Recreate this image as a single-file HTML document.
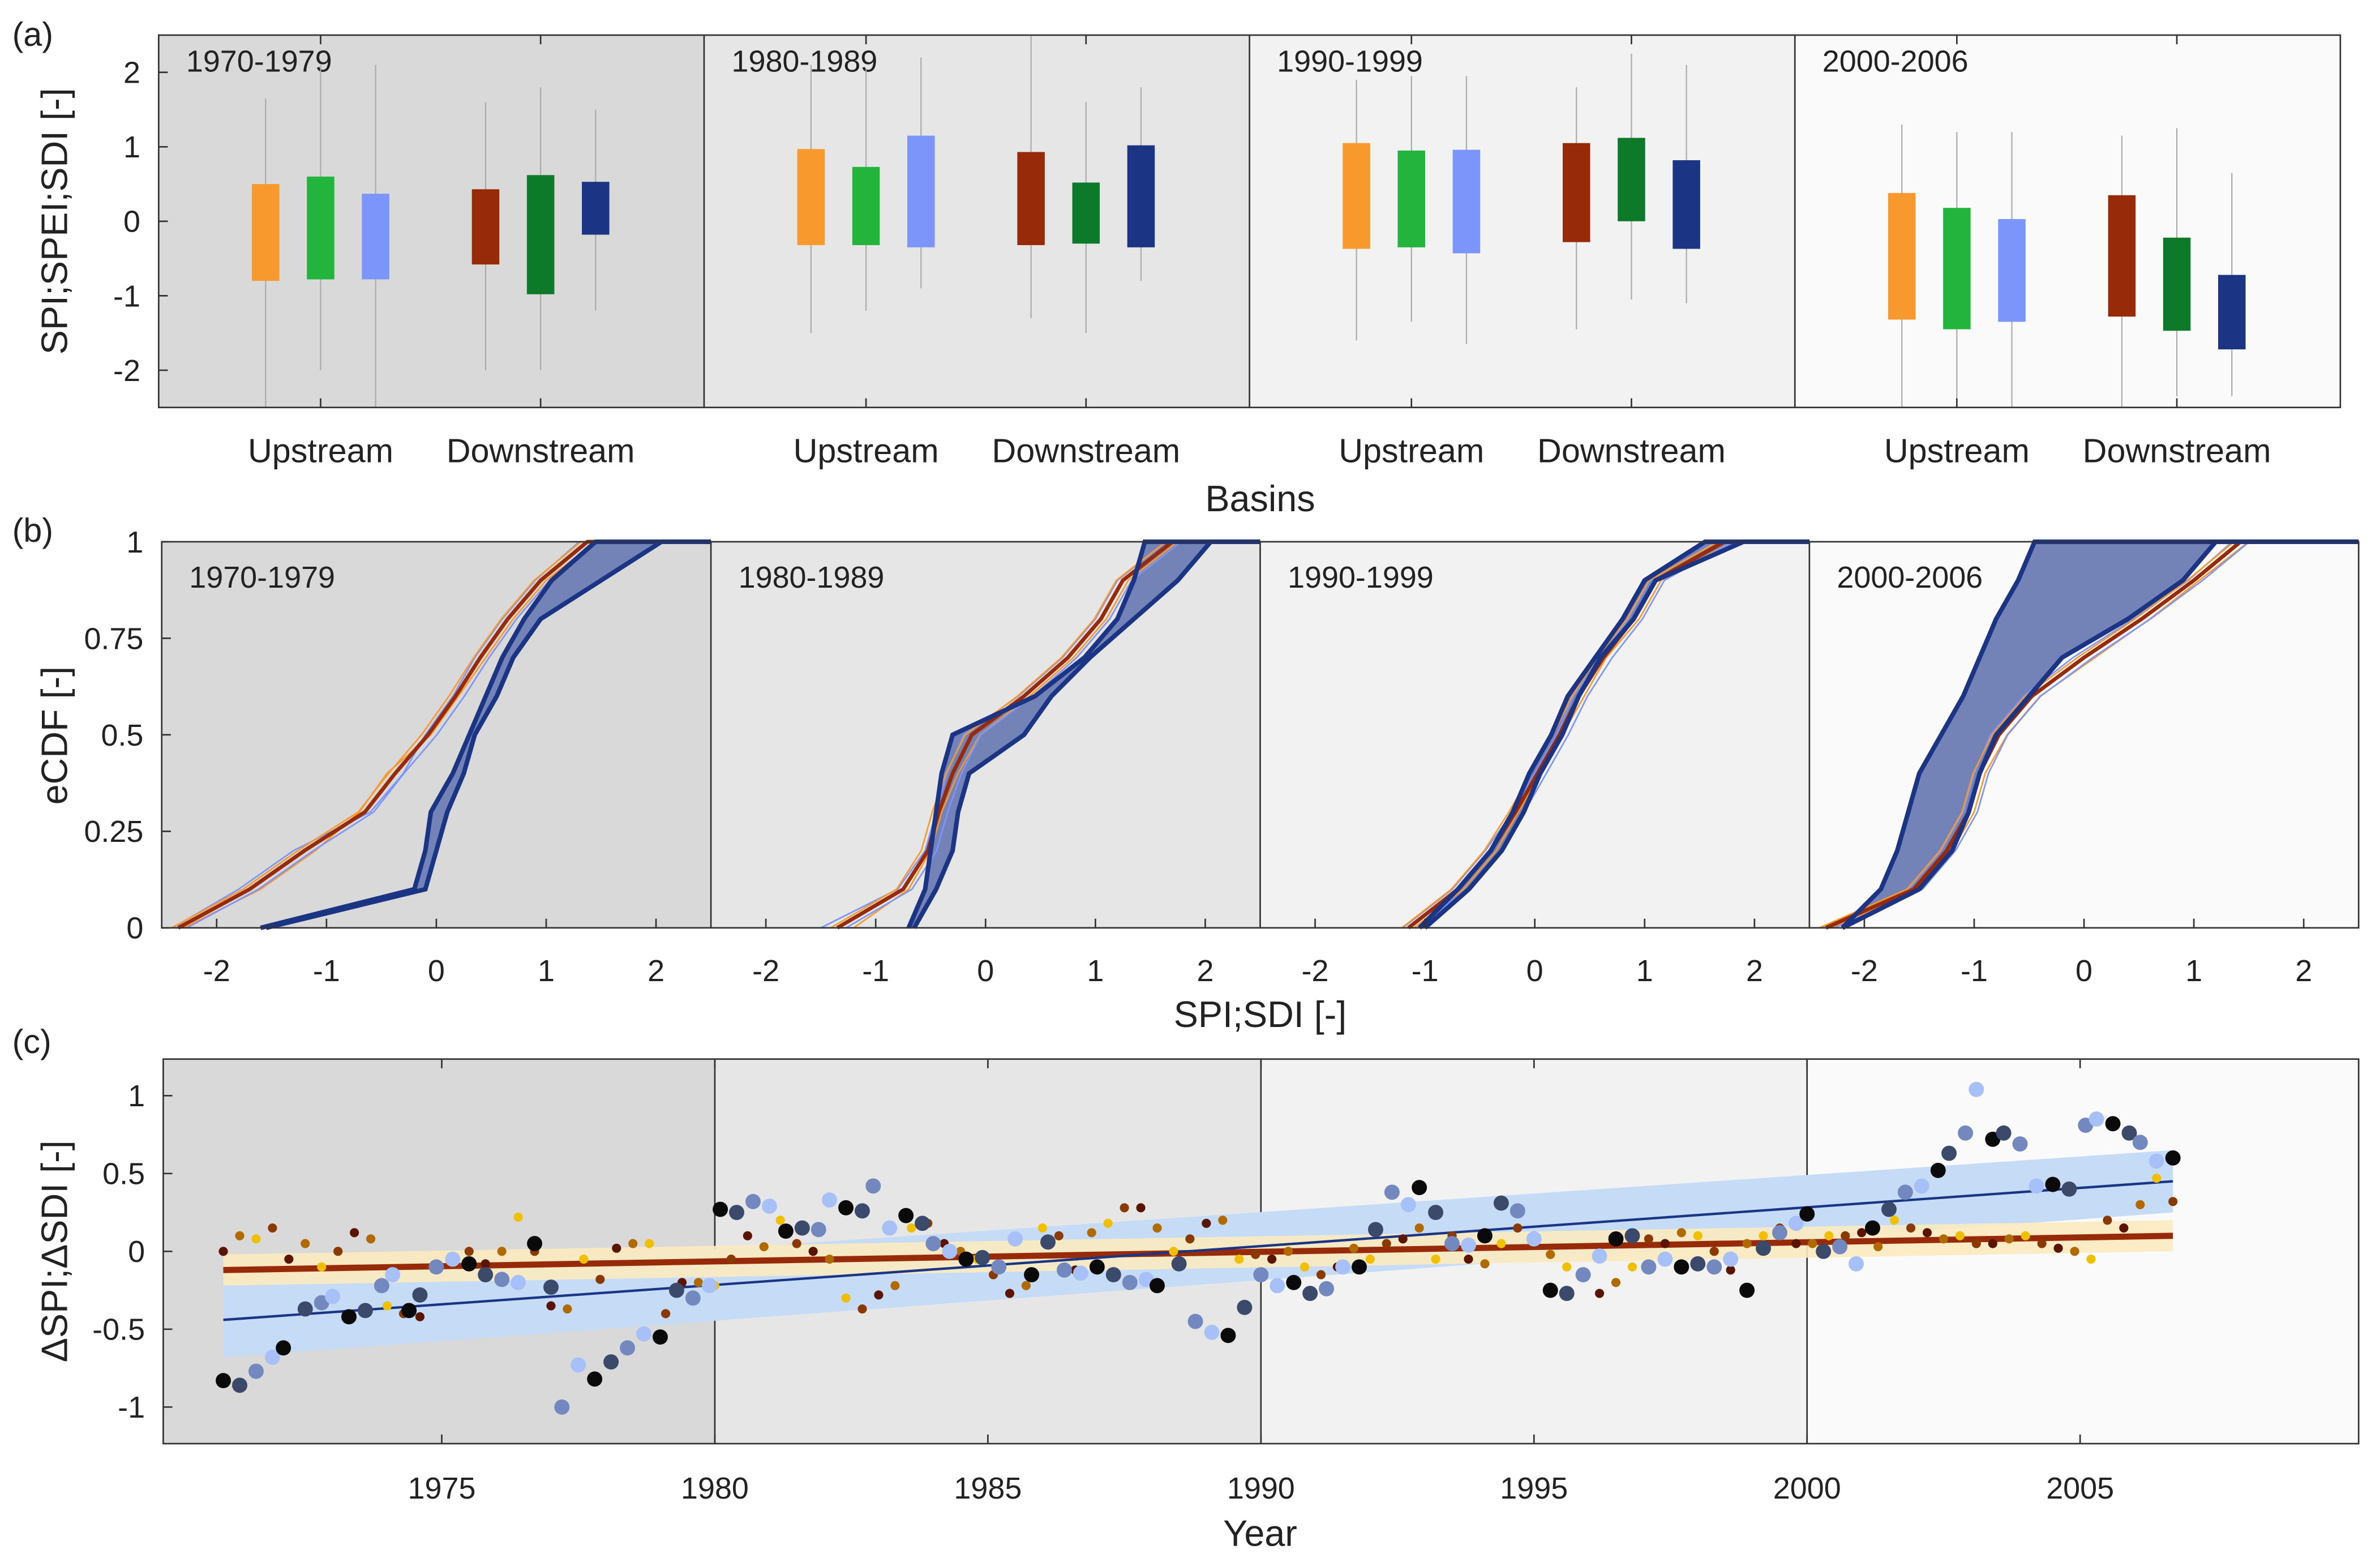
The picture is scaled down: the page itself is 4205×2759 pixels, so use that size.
<!DOCTYPE html>
<html><head><meta charset="utf-8">
<style>
html,body{margin:0;padding:0;background:#fff;}
svg{display:block;font-family:"Liberation Sans",Arial,sans-serif;}
</style></head>
<body>
<svg id="fig" width="4205" height="2759" viewBox="0 0 4205 2759" xmlns="http://www.w3.org/2000/svg">
<g id="root" transform="scale(2.6955)"></g>
</svg>
<script>
// ---------- DATA ----------
const periods = ["1970-1979","1980-1989","1990-1999","2000-2006"];
const basinLabels = ["Upstream","Downstream"];
const boxColors = ["#f7992c","#22b43c","#7c95fb","#972a08","#0d7a29","#1b3584"];
const boxHigh = [[0.5,0.6,0.37,0.43,0.62,0.53],[0.97,0.73,1.15,0.93,0.52,1.02],[1.05,0.95,0.96,1.05,1.12,0.82],[0.38,0.18,0.03,0.35,-0.22,-0.72]];
const boxLow  = [[-0.8,-0.78,-0.78,-0.58,-0.98,-0.18],[-0.32,-0.32,-0.35,-0.32,-0.3,-0.35],[-0.37,-0.35,-0.43,-0.28,0,-0.37],[-1.32,-1.45,-1.35,-1.28,-1.47,-1.72]];
const whiskHigh = [[1.65,2.1,2.1,1.6,1.8,1.5],[2.1,2.05,2.2,2.5,1.6,1.8],[1.9,1.95,1.95,1.8,2.25,2.1],[1.3,1.2,1.2,1.15,1.25,0.65]];
const whiskLow  = [[-2.5,-2.0,-2.5,-2.0,-2.0,-1.2],[-1.5,-1.2,-0.9,-1.3,-1.5,-0.8],[-1.6,-1.35,-1.65,-1.45,-1.05,-1.1],[-2.5,-2.5,-2.5,-2.5,-2.35,-2.35]];
const aTicks = [-2,-1,0,1,2];

const cdfProbs = [0,0.1,0.2,0.3,0.4,0.5,0.6,0.7,0.8,0.9,1];
const bandLeft = [[-1.6,-0.2,-0.1,-0.05,0.15,0.3,0.45,0.6,0.8,1.05,1.45],[-0.7,-0.55,-0.5,-0.45,-0.4,-0.3,0.45,0.9,1.2,1.35,1.45],[-1.05,-0.7,-0.4,-0.2,-0.05,0.15,0.3,0.55,0.8,1.0,1.55],[-2.2,-1.85,-1.7,-1.6,-1.5,-1.3,-1.1,-0.95,-0.8,-0.6,-0.45]];
const bandRight = [[-1.55,-0.1,0.0,0.1,0.25,0.35,0.55,0.7,0.95,1.5,2.05],[-0.65,-0.45,-0.3,-0.25,-0.15,0.35,0.6,0.95,1.35,1.75,2.05],[-1.0,-0.6,-0.3,-0.1,0.05,0.25,0.4,0.6,0.9,1.1,1.9],[-2.2,-1.5,-1.2,-1.05,-0.95,-0.8,-0.5,-0.2,0.4,0.9,1.2]];
const spiCurveA = [[-2.4,-1.8,-1.3,-0.6,-0.3,-0.1,0.15,0.35,0.6,0.9,1.3],[-1.5,-0.8,-0.55,-0.45,-0.35,-0.2,0.3,0.7,1.0,1.2,1.65],[-1.2,-0.75,-0.45,-0.2,0,0.2,0.35,0.6,0.85,1.05,1.65],[-2.4,-1.6,-1.3,-1.1,-1.0,-0.85,-0.55,-0.1,0.45,0.95,1.35]];
const spiCurveB = [[-2.3,-1.6,-1.1,-0.7,-0.45,-0.05,0.2,0.45,0.7,1.0,1.45],[-1.2,-0.7,-0.5,-0.4,-0.25,-0.05,0.4,0.8,1.1,1.3,1.75],[-1.1,-0.65,-0.35,-0.15,0.05,0.25,0.45,0.65,0.95,1.15,1.8],[-2.3,-1.5,-1.2,-1.0,-0.9,-0.7,-0.4,0.1,0.6,1.05,1.5]];
const bTicksX = [-2,-1,0,1,2];
const bTicksY = [0,0.25,0.5,0.75,1];
const bTickLabelsY = ["0","0.25","0.5","0.75","1"];

const bigYears = [1971.0,1971.3,1971.6,1971.9,1972.1,1972.5,1972.8,1973.0,1973.3,1973.6,1973.9,1974.1,1974.4,1974.6,1974.9,1975.2,1975.5,1975.8,1976.1,1976.4,1976.7,1977.0,1977.2,1977.5,1977.8,1978.1,1978.4,1978.7,1979.0,1979.3,1979.6,1979.9,1980.1,1980.4,1980.7,1981.0,1981.3,1981.6,1981.9,1982.1,1982.4,1982.7,1982.9,1983.2,1983.5,1983.8,1984.0,1984.3,1984.6,1984.9,1985.2,1985.5,1985.8,1986.1,1986.4,1986.7,1987.0,1987.3,1987.6,1987.9,1988.1,1988.5,1988.8,1989.1,1989.4,1989.7,1990.0,1990.3,1990.6,1990.9,1991.2,1991.5,1991.8,1992.1,1992.4,1992.7,1992.9,1993.2,1993.5,1993.8,1994.1,1994.4,1994.7,1995.0,1995.3,1995.6,1995.9,1996.2,1996.5,1996.8,1997.1,1997.4,1997.7,1998.0,1998.3,1998.6,1998.9,1999.2,1999.5,1999.8,2000.0,2000.3,2000.6,2000.9,2001.2,2001.5,2001.8,2002.1,2002.4,2002.6,2002.9,2003.1,2003.4,2003.6,2003.9,2004.2,2004.5,2004.8,2005.1,2005.3,2005.6,2005.9,2006.1,2006.4,2006.7];
const bigValues = [-0.83,-0.86,-0.77,-0.68,-0.62,-0.37,-0.33,-0.29,-0.42,-0.38,-0.22,-0.15,-0.38,-0.28,-0.1,-0.05,-0.08,-0.15,-0.18,-0.2,0.05,-0.23,-1.0,-0.73,-0.82,-0.71,-0.62,-0.53,-0.55,-0.25,-0.3,-0.22,0.27,0.25,0.32,0.29,0.13,0.15,0.14,0.33,0.28,0.26,0.42,0.15,0.23,0.18,0.05,0.0,-0.05,-0.04,-0.1,0.08,-0.15,0.06,-0.12,-0.14,-0.1,-0.15,-0.2,-0.18,-0.22,-0.08,-0.45,-0.52,-0.54,-0.36,-0.15,-0.22,-0.2,-0.27,-0.24,-0.1,-0.1,0.14,0.38,0.3,0.41,0.25,0.05,0.04,0.1,0.31,0.26,0.08,-0.25,-0.27,-0.15,-0.03,0.08,0.1,-0.1,-0.05,-0.1,-0.08,-0.1,-0.05,-0.25,0.02,0.12,0.18,0.24,0.0,0.03,-0.08,0.15,0.27,0.38,0.42,0.52,0.63,0.76,1.04,0.72,0.76,0.69,0.42,0.43,0.4,0.81,0.85,0.82,0.76,0.7,0.58,0.6];
const smallYears = [1971.0,1971.3,1971.6,1971.9,1972.2,1972.5,1972.8,1973.1,1973.4,1973.7,1974.0,1974.3,1974.6,1974.9,1975.2,1975.5,1975.8,1976.1,1976.4,1976.7,1977.0,1977.3,1977.6,1977.9,1978.2,1978.5,1978.8,1979.1,1979.4,1979.7,1980.0,1980.3,1980.6,1980.9,1981.2,1981.5,1981.8,1982.1,1982.4,1982.7,1983.0,1983.3,1983.6,1983.9,1984.2,1984.5,1984.8,1985.1,1985.4,1985.7,1986.0,1986.3,1986.6,1986.9,1987.2,1987.5,1987.8,1988.1,1988.4,1988.7,1989.0,1989.3,1989.6,1989.9,1990.2,1990.5,1990.8,1991.1,1991.4,1991.7,1992.0,1992.3,1992.6,1992.9,1993.2,1993.5,1993.8,1994.1,1994.4,1994.7,1995.0,1995.3,1995.6,1995.9,1996.2,1996.5,1996.8,1997.1,1997.4,1997.7,1998.0,1998.3,1998.6,1998.9,1999.2,1999.5,1999.8,2000.1,2000.4,2000.7,2001.0,2001.3,2001.6,2001.9,2002.2,2002.5,2002.8,2003.1,2003.4,2003.7,2004.0,2004.3,2004.6,2004.9,2005.2,2005.5,2005.8,2006.1,2006.4,2006.7];
const smallValues = [0.0,0.1,0.08,0.15,-0.05,0.05,-0.1,0.0,0.12,0.08,-0.35,-0.4,-0.42,-0.1,-0.05,0.0,-0.08,0.0,0.22,0.0,-0.35,-0.37,-0.05,-0.18,0.02,0.05,0.05,-0.4,-0.2,-0.2,-0.22,-0.05,0.1,0.03,0.2,0.05,0.0,-0.05,-0.3,-0.37,-0.28,-0.22,0.15,0.18,0.05,0.0,-0.05,-0.15,-0.27,-0.22,0.15,0.1,-0.12,0.12,0.18,0.28,0.28,0.15,0.0,0.08,0.18,0.2,-0.05,-0.02,-0.05,0.0,-0.1,-0.15,-0.1,0.02,-0.05,0.05,0.08,0.15,-0.05,0.1,-0.05,-0.08,0.05,0.15,0.1,-0.02,-0.1,-0.15,-0.27,-0.2,-0.1,0.08,0.05,0.12,0.1,0.0,-0.12,0.05,0.1,0.15,0.05,0.05,0.1,0.1,0.12,0.03,0.2,0.15,0.12,0.08,0.1,0.05,0.05,0.08,0.1,0.05,0.02,0.0,-0.05,0.2,0.15,0.3,0.47,0.32];
const sdiTrend = [1971, -0.44, 2006.7, 0.45];
const spiTrend = [1971, -0.12, 2006.7, 0.1];
const cTicksX = [1975,1980,1985,1990,1995,2000,2005];
const cTicksY = [-1,-0.5,0,0.5,1];
const periodShades = ["#d9d9d9","#e6e6e6","#f2f2f2","#fafafa"];

// ---------- HELPERS ----------
const NS = "http://www.w3.org/2000/svg";
const root = document.getElementById("root");
function mk(tag, attrs, parent){
  const e = document.createElementNS(NS, tag);
  for (const k in attrs) e.setAttribute(k, attrs[k]);
  (parent||root).appendChild(e);
  return e;
}
function txt(x,y,s,size,anchor,parent){
  const t = mk("text",{x:x,y:y,"font-size":size,"text-anchor":anchor||"middle",fill:"#222"},parent);
  t.textContent = s;
  return t;
}

// ---------- PANEL A ----------
const A = {x0:104,x1:1534,y0:23,y1:267,vmin:-2.5,vmax:2.5};
const aSubW = (A.x1-A.x0)/4;
function ay(v){ return A.y1 - (v-A.vmin)/(A.vmax-A.vmin)*(A.y1-A.y0); }
const boxOffsets = [70,106,142,214,250,286];
for (let p=0;p<4;p++){
  const sx = A.x0 + p*aSubW;
  const bg = mk("rect",{x:sx,y:A.y0,width:aSubW,height:A.y1-A.y0,fill:periodShades[p]});
  
  
  if (p>0){
    const l = mk("line",{x1:sx,x2:sx,y1:A.y0,y2:A.y1,stroke:"#333","stroke-width":1});
    
    
  }
  const lab = txt(sx+18,A.y0+24,periods[p],20,"start");
  
  
  for (let b=0;b<6;b++){
    const cx = sx + boxOffsets[b]*aSubW/357;
    const w = mk("line",{x1:cx,x2:cx,y1:ay(whiskHigh[p][b]),y2:ay(whiskLow[p][b]),stroke:"#aaa","stroke-width":0.8});
    
    
    const r = mk("rect",{x:cx-9,y:ay(boxHigh[p][b]),width:18,height:ay(boxLow[p][b])-ay(boxHigh[p][b]),fill:boxColors[b]});
    
    
  }
  for (let k=0;k<2;k++){
    const cx = sx + boxOffsets[1+3*k]*aSubW/357;
    const t = txt(cx,A.y1+36,basinLabels[k],22);
    
    
    mk("line",{x1:cx,x2:cx,y1:A.y0,y2:A.y0+6,stroke:"#333"});
    mk("line",{x1:cx,x2:cx,y1:A.y1,y2:A.y1-6,stroke:"#333"});
  }
}
const aFrame = mk("rect",{x:A.x0,y:A.y0,width:A.x1-A.x0,height:A.y1-A.y0,fill:"none",stroke:"#333","stroke-width":1});


aTicks.forEach(v=>{
  mk("line",{x1:A.x0,x2:A.x0+6,y1:ay(v),y2:ay(v),stroke:"#333"});
  const t = txt(A.x0-12,ay(v)+7,String(v),20,"end");
  
  
});
const aYT = txt(0,0,"SPI;SPEI;SDI [-]",24);
aYT.setAttribute("transform","translate(44,145) rotate(-90)");


const aXT = txt(826,335,"Basins",24);


const aTag = txt(8,30,"(a)",22,"start");



// ---------- PANEL B ----------
const B = {x0:106,x1:1546,y0:355,y1:608};
const bSubW = (B.x1-B.x0)/4;
function bx(p,v){ return B.x0 + p*bSubW + (v+2.5)/5*bSubW; }
function by(v){ return B.y1 - v*(B.y1-B.y0); }
function linPts(p,xs){
  const pts=[];
  for (let i=0;i<xs.length;i++) pts.push([bx(p,xs[i]),by(cdfProbs[i])]);
  return pts;
}
for (let p=0;p<4;p++){
  const sx = B.x0 + p*bSubW;
  const bg = mk("rect",{x:sx,y:B.y0,width:bSubW,height:B.y1-B.y0,fill:periodShades[p]});
  
  
  if (p>0){
    const l = mk("line",{x1:sx,x2:sx,y1:B.y0,y2:B.y1,stroke:"#333","stroke-width":1});
    
    
  }
}
for (let p=0;p<4;p++){
  const sx = B.x0 + p*bSubW;
  const L = linPts(p,bandLeft[p]);
  const R = linPts(p,bandRight[p]);
  const poly = L.concat(R.slice().reverse()).map(a=>a.join(",")).join(" ");
  const band = mk("polygon",{points:poly,fill:"#7383b8",stroke:"none"});
  
  
  const cols = ["#7c95fb","#f7992c","#7c95fb","#f7992c","#972a08"];
  const curves = [spiCurveA[p],spiCurveB[p],spiCurveA[p].map((v,i)=>(v+spiCurveB[p][i])/2+0.08),spiCurveB[p].map((v,i)=>(v+spiCurveA[p][i])/2-0.06),spiCurveA[p].map((v,i)=>(v+spiCurveB[p][i])/2)];
  curves.forEach((c,ci)=>{
    const pts = linPts(p,c);
    pts.push([sx+bSubW, by(1)]);
    const pl = mk("polyline",{points:pts.map(a=>a.join(",")).join(" "),fill:"none",stroke:cols[ci],"stroke-width":ci===4?2.5:1});
    
    
  });
  [bandLeft[p],bandRight[p]].forEach(c=>{
    const pts = linPts(p,c);
    pts.push([sx+bSubW, by(1)]);
    const pl = mk("polyline",{points:pts.map(a=>a.join(",")).join(" "),fill:"none",stroke:"#1b3584","stroke-width":3});
    
    
  });
  const lab = txt(sx+18,B.y0+30,periods[p],20,"start");
  
  
  bTicksX.forEach(v=>{
    mk("line",{x1:bx(p,v),x2:bx(p,v),y1:B.y1,y2:B.y1-6,stroke:"#333"});
    const t = txt(bx(p,v),B.y1+35,String(v),20);
    
    
  });
}
const bFrame = mk("rect",{x:B.x0,y:B.y0,width:B.x1-B.x0,height:B.y1-B.y0,fill:"none",stroke:"#333","stroke-width":1});


bTicksY.forEach((v,i)=>{
  mk("line",{x1:B.x0,x2:B.x0+6,y1:by(v),y2:by(v),stroke:"#333"});
  const t = txt(B.x0-12,by(v)+7,bTickLabelsY[i],20,"end");
  
  
});
const bYT = txt(0,0,"eCDF [-]",24);
bYT.setAttribute("transform","translate(44,482) rotate(-90)");


const bXT = txt(826,673,"SPI;SDI [-]",24);


const bTag = txt(8,355,"(b)",22,"start");



// ---------- PANEL C ----------
const C = {x0:107,x1:1546,y0:694,y1:946,xmin:1969.9,xmax:2010.1,ymin:-1.235,ymax:1.235};
function cx(v){ return C.x0 + (v-C.xmin)/(C.xmax-C.xmin)*(C.x1-C.x0); }
function cy(v){ return C.y1 - (v-C.ymin)/(C.ymax-C.ymin)*(C.y1-C.y0); }
const bounds = [C.xmin,1980,1990,2000,C.xmax];
for (let p=0;p<4;p++){
  const r = mk("rect",{x:cx(bounds[p]),y:C.y0,width:cx(bounds[p+1])-cx(bounds[p]),height:C.y1-C.y0,fill:periodShades[p]});
  
  
}
[1980,1990,2000].forEach(v=>{
  const l = mk("line",{x1:cx(v),x2:cx(v),y1:C.y0,y2:C.y1,stroke:"#333","stroke-width":1});
  
  
});
function bandPoly(t,w1,w2){
  const [xa,ya,xb,yb]=t;
  return [[cx(xa),cy(ya+w1)],[cx(xb),cy(yb+w2)],[cx(xb),cy(yb-w2)],[cx(xa),cy(ya-w1)]].map(a=>a.join(",")).join(" ");
}
const sdiBand = mk("polygon",{points:bandPoly(sdiTrend,0.24,0.2),fill:"#c6dcf6"});


const spiBand = mk("polygon",{points:bandPoly(spiTrend,0.1,0.1),fill:"#fbeac0","fill-opacity":0.9});


const spiLine = mk("line",{x1:cx(spiTrend[0]),y1:cy(spiTrend[1]),x2:cx(spiTrend[2]),y2:cy(spiTrend[3]),stroke:"#972a08","stroke-width":4});


const sdiLine = mk("line",{x1:cx(sdiTrend[0]),y1:cy(sdiTrend[1]),x2:cx(sdiTrend[2]),y2:cy(sdiTrend[3]),stroke:"#1b3584","stroke-width":1.6});


const smallCols = ["#5a1400","#b06a00","#f0c000","#8a3a00"];
smallYears.forEach((yr,i)=>{
  const c = mk("circle",{cx:cx(yr),cy:cy(smallValues[i]),r:3,fill:smallCols[i%4]});
  
  
});
const bigCols = ["#0a0a0a","#3b4a6b","#7488c0","#a8c0f8"];
bigYears.forEach((yr,i)=>{
  const c = mk("circle",{cx:cx(yr),cy:cy(bigValues[i]),r:5,fill:bigCols[i%4]});
  
  
});
const cFrame = mk("rect",{x:C.x0,y:C.y0,width:C.x1-C.x0,height:C.y1-C.y0,fill:"none",stroke:"#333","stroke-width":1});


cTicksX.forEach(v=>{
  mk("line",{x1:cx(v),x2:cx(v),y1:C.y1,y2:C.y1-6,stroke:"#333"});
  mk("line",{x1:cx(v),x2:cx(v),y1:C.y0,y2:C.y0+6,stroke:"#333"});
  const t = txt(cx(v),C.y1+36,String(v),20);
  
  
});
cTicksY.forEach(v=>{
  mk("line",{x1:C.x0,x2:C.x0+6,y1:cy(v),y2:cy(v),stroke:"#333"});
  const t = txt(C.x0-12,cy(v)+7,String(v),20,"end");
  
  
});
const cYT = txt(0,0,"ΔSPI;ΔSDI [-]",24);
cYT.setAttribute("transform","translate(44,820) rotate(-90)");


const cXT = txt(826,1013,"Year",24);


const cTag = txt(8,690,"(c)",22,"start");


</script>
</body></html>
